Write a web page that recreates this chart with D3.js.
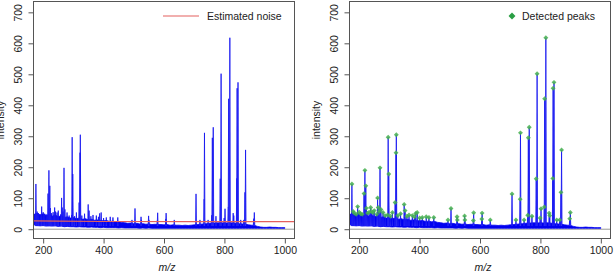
<!DOCTYPE html>
<html><head><meta charset="utf-8">
<script src="https://cdn.jsdelivr.net/npm/d3@7"></script>
<style>body{margin:0;background:#fff} svg{display:block;font-family:"Liberation Sans",Arial,sans-serif}</style>
</head><body><svg id="c" width="615" height="277"></svg>
<script>
// ---- data ----
const xTicks = [200, 400, 600, 800, 1000];
const yTicks = [0, 100, 200, 300, 400, 500, 600, 700];
const xDomain = [168, 1032];
const yDomain = [-30, 735];

// baseline noise band of the spectrum, read every 10 m/z from 170 to 1000
const bandMz = d3.range(170, 1001, 10);
const bandHi = [48,52,46,50,44,48,42,46,40,44,
  38,40,36,38,34,36,32,34,30,32,
  29,30,28,27,28,25,26,24,25,22,
  21,19,20,18,19,17,18,16,17,15,
  16,15,15,14,15,13,14,13,13,12,
  13,12,13,14,15,16,17,18,19,20,
  20,21,20,21,20,21,20,19,18,17,
  16,14,13,12,9,7,6,6,7,6,
  6,5,5,5];
const bandLo = [14,12,11,12,10,11,10,11,9,10,
  8,9,8,8,7,8,7,7,6,7,
  6,6,5,6,5,5,5,5,4,5,
  4,4,4,4,4,3,4,3,4,3,
  3,3,3,3,3,3,3,3,3,3,
  3,3,3,3,3,3,3,3,3,3,
  3,3,3,3,3,3,3,3,3,3,
  3,3,3,3,3,3,3,3,3,3,
  3,3,3,3];

// detected peaks (m/z, intensity)
const peakMz  = [176,180,184,190,195,200,205,210,216,219,222,224,228,233,238,241,246,250,258,261,263,266,269,272,279,286,294,296,298,304,310,319,322,323,328,337,349,352,358,365,376,383,387,392,400,409,422,431,447,494,504,524,525,549,550,578,579,606,607,634,706,719,733,734,746,758,760,763,772,786,789,799,802,813,814,818,829,831,841,842,845,854,864,868,870,897,899];
const peakInt = [146,57,52,48,73,55,50,48,115,190,140,68,52,55,70,57,54,60,48,101,70,57,198,64,54,44,46,297,178,42,54,86,247,305,44,50,80,60,42,46,44,40,51,54,36,38,40,38,38,30,67,40,30,43,30,28,53,33,52,30,114,30,97,311,30,45,295,329,42,163,502,36,66,72,421,618,52,44,164,455,474,30,30,119,256,34,54];

// estimated noise level
const noiseMz  = [168, 250, 400, 700, 1032];
const noiseInt = [27, 26, 25, 24.5, 24.5];

// ---- build ----
const band = bandMz.map((m, i) => ({mz: m, hi: bandHi[i], lo: bandLo[i]}));
const peaks = peakMz.map((m, i) => ({mz: m, int: peakInt[i]})).sort((a,b)=>a.int-b.int);
const noise = noiseMz.map((m, i) => ({mz: m, v: noiseInt[i]}));

const svg = d3.select("#c");
const defs = svg.append("defs");
const Y0 = 1.5, Y1 = 238.5;
const panels = [{x0: 33.5, x1: 294.5, kind: "noise", ylabX: 3.5},
                {x0: 349.5, x1: 610.5, kind: "peaks", ylabX: 319.5}];
const BLUE = "#0000f0";
const GREEN = "#45b04f";

panels.forEach((p, i) => {
  const x = d3.scaleLinear().domain(xDomain).range([p.x0, p.x1]);
  const y = d3.scaleLinear().domain(yDomain).range([Y1, Y0]);
  const g = svg.append("g");
  defs.append("clipPath").attr("id", "clip" + i).append("rect")
    .attr("x", p.x0).attr("y", Y0).attr("width", p.x1 - p.x0).attr("height", Y1 - Y0);
  const plot = g.append("g").attr("clip-path", `url(#clip${i})`);

  plot.append("line").attr("x1", p.x0).attr("x2", p.x1)
    .attr("y1", y(0)).attr("y2", y(0)).attr("stroke", "#9a9a9a").attr("stroke-width", 1);

  const area = d3.area().x(d => x(d.mz)).y0(d => y(d.lo)).y1(d => y(d.hi));
  plot.append("path").datum(band).attr("d", area)
    .attr("fill", BLUE).attr("stroke", BLUE).attr("stroke-width", 0.8);

  const base = 10;
  plot.selectAll("path.spike").data(peaks).join("path").attr("class", "spike")
    .attr("d", d => `M${x(d.mz - 1.6)},${y(base)}L${x(d.mz)},${y(d.int)}L${x(d.mz + 1.6)},${y(base)}`)
    .attr("fill", "#7070ff").attr("stroke", "#1010f0").attr("stroke-width", 0.8).attr("stroke-linejoin", "miter");

  if (p.kind === "noise") {
    plot.append("path").datum(noise)
      .attr("d", d3.line().x(d => x(d.mz)).y(d => y(d.v)))
      .attr("fill", "none").attr("stroke", "#e4605e").attr("stroke-width", 1.1);
  } else {
    const sq = d3.symbol().type(d3.symbolSquare).size(12);
    plot.selectAll("path.pk").data(peaks).join("path").attr("class", "pk")
      .attr("d", sq)
      .attr("transform", d => `translate(${x(d.mz)},${y(d.int)}) rotate(45)`)
      .attr("fill", GREEN).attr("fill-opacity", 0.85);
  }

  // box
  g.append("rect").attr("x", p.x0).attr("y", Y0).attr("width", p.x1 - p.x0).attr("height", Y1 - Y0)
    .attr("fill", "none").attr("stroke", "#555").attr("stroke-width", 1);

  // x axis
  const xa = g.append("g").attr("transform", `translate(0,${Y1})`)
    .call(d3.axisBottom(x).tickValues(xTicks).tickSize(5).tickFormat(d3.format("d")));
  xa.select(".domain").remove();
  xa.selectAll("line").attr("stroke", "#555");
  xa.selectAll("text").attr("y", 15.5).attr("dy", 0).attr("fill", "#222")
    .attr("font-size", 10.5).attr("font-family", "Liberation Sans, Arial, sans-serif");

  // y axis
  const ya = g.append("g").attr("transform", `translate(${p.x0},0)`)
    .call(d3.axisLeft(y).tickValues(yTicks).tickSize(5).tickFormat(d3.format("d")));
  ya.select(".domain").remove();
  ya.selectAll("line").attr("stroke", "#555");
  ya.selectAll("text").attr("x", null).attr("dy", 0).attr("text-anchor", "middle")
    .attr("transform", "translate(-12,0) rotate(-90)").attr("fill", "#222")
    .attr("font-size", 10.5).attr("font-family", "Liberation Sans, Arial, sans-serif");

  // axis titles
  g.append("text").attr("x", (p.x0 + p.x1) / 2 + 3).attr("y", 270.5).attr("text-anchor", "middle")
    .attr("font-size", 10.5).attr("font-style", "italic").attr("fill", "#222").text("m/z");
  g.append("text").attr("transform", `translate(${p.ylabX},${(Y0 + Y1) / 2}) rotate(-90)`)
    .attr("text-anchor", "middle").attr("font-size", 10.5).attr("fill", "#222").text("intensity");

  // legend
  if (p.kind === "noise") {
    g.append("line").attr("x1", 163).attr("x2", 199).attr("y1", 16).attr("y2", 16)
      .attr("stroke", "#e4605e").attr("stroke-width", 1.1);
    g.append("text").attr("x", 207).attr("y", 19.5).attr("font-size", 10.5).attr("fill", "#222").text("Estimated noise");
  } else {
    g.append("path").attr("d", d3.symbol().type(d3.symbolSquare).size(24))
      .attr("transform", "translate(512,16) rotate(45)").attr("fill", "#2a9e44");
    g.append("text").attr("x", 522).attr("y", 19.5).attr("font-size", 10.5).attr("fill", "#222").text("Detected peaks");
  }
});
</script></body></html>
